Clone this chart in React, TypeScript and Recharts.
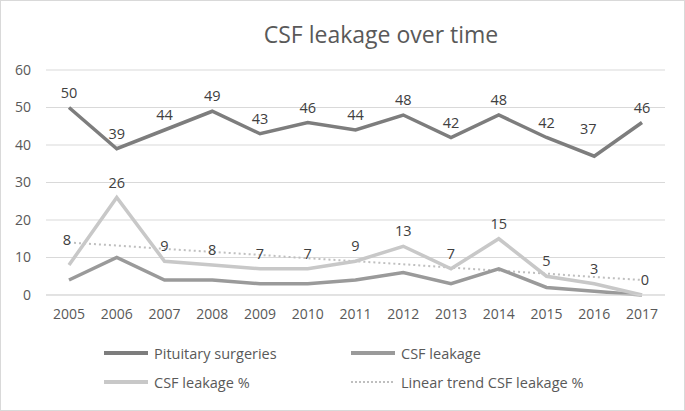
import React from 'react';
import { LineChart, Line, XAxis, YAxis, CartesianGrid, LabelList } from 'recharts';

const years = ['2005','2006','2007','2008','2009','2010','2011','2012','2013','2014','2015','2016','2017'];
const pituitary = [50, 39, 44, 49, 43, 46, 44, 48, 42, 48, 42, 37, 46];
const csfLeak = [4, 10, 4, 4, 3, 3, 4, 6, 3, 7, 2, 1, 0];
const csfPct = [8, 26, 9, 8, 7, 7, 9, 13, 7, 15, 5, 3, 0];
const trend = [14.0, 13.2, 12.3, 11.5, 10.7, 9.8, 9.0, 8.2, 7.3, 6.5, 5.7, 4.8, 4.0];
const yTicks = [0, 10, 20, 30, 40, 50, 60];

const data = years.map((y, i) => ({
  year: y,
  pituitary: pituitary[i],
  csfLeak: csfLeak[i],
  csfPct: csfPct[i],
  trend: trend[i],
}));

const FONT = '"Open Sans", sans-serif';
const C_PIT = '#7d7d7d';
const C_LEAK = '#9a9a9a';
const C_PCT = '#c8c8c8';
const C_TREND = '#bfbfbf';

const legendItems = [
  { label: 'Pituitary surgeries', color: C_PIT, dashed: false },
  { label: 'CSF leakage', color: C_LEAK, dashed: false },
  { label: 'CSF leakage %', color: C_PCT, dashed: false },
  { label: 'Linear trend CSF leakage %', color: C_TREND, dashed: true },
];

const makeLabel = (values: number[], extra: Record<number, [number, number]>) => (props: any) => {
  const { x, y, index } = props;
  const [dx, dy] = extra[index] || [0, 0];
  return (
    <text x={x + dx} y={y - 10 + dy} textAnchor="middle" fontFamily={FONT} fontSize={14.5} fill="#404040">
      {values[index]}
    </text>
  );
};

export default function App() {
  return (
    <div style={{ position: 'absolute', left: 0, top: 0, width: 683, height: 409, border: '1px solid #d9d9d9', background: '#fff', overflow: 'hidden' }}>
      <div style={{ position: 'absolute', left: 0, width: 760, top: 17, textAlign: 'center', fontFamily: FONT, fontSize: 23, color: '#595959' }}>
        CSF leakage over time
      </div>
      <LineChart width={683} height={340} data={data} margin={{ top: 69, right: 19, bottom: 16, left: 0 }}>
        <CartesianGrid vertical={false} stroke="#d9d9d9" strokeWidth={1} />
        <XAxis dataKey="year" padding={{ left: 23, right: 23 }} tickLine={false} axisLine={{ stroke: '#d9d9d9' }} tick={{ fontFamily: FONT, fontSize: 14, fill: '#595959' }} height={30} tickMargin={8} interval={0} />
        <YAxis domain={[0, 60]} ticks={yTicks} width={45} tickLine={false} axisLine={false} tick={{ fontFamily: FONT, fontSize: 14, fill: '#595959' }} tickMargin={9} />
        <Line dataKey="trend" stroke={C_TREND} strokeWidth={2} strokeDasharray="2 3" dot={false} isAnimationActive={false} />
        <Line dataKey="csfLeak" stroke={C_LEAK} strokeWidth={3.5} dot={false} isAnimationActive={false} />
        <Line dataKey="csfPct" stroke={C_PCT} strokeWidth={3.5} dot={false} isAnimationActive={false}>
          <LabelList dataKey="csfPct" content={makeLabel(csfPct, { 0: [-2, -10], 12: [3, 0] })} />
        </Line>
        <Line dataKey="pituitary" stroke={C_PIT} strokeWidth={3.5} dot={false} isAnimationActive={false}>
          <LabelList dataKey="pituitary" content={makeLabel(pituitary, { 11: [-6, -12] })} />
        </Line>
      </LineChart>
      <div style={{ position: 'absolute', left: 0, top: 341, width: 683, height: 60, fontFamily: FONT, fontSize: 14.5, color: '#595959' }}>
        {legendItems.map((it, i) => {
          const col = i % 2;
          const row = Math.floor(i / 2);
          const left = col === 0 ? 103 : 350;
          const top = row * 29;
          return (
            <div key={it.label} style={{ position: 'absolute', left, top, display: 'flex', alignItems: 'center', height: 22, whiteSpace: 'nowrap' }}>
              <svg width={44} height={8} style={{ marginRight: 6 }}>
                <line x1={0} y1={4} x2={44} y2={4} stroke={it.color} strokeWidth={it.dashed ? 2 : 4} strokeDasharray={it.dashed ? '2 2' : undefined} />
              </svg>
              <span>{it.label}</span>
            </div>
          );
        })}
      </div>
    </div>
  );
}
